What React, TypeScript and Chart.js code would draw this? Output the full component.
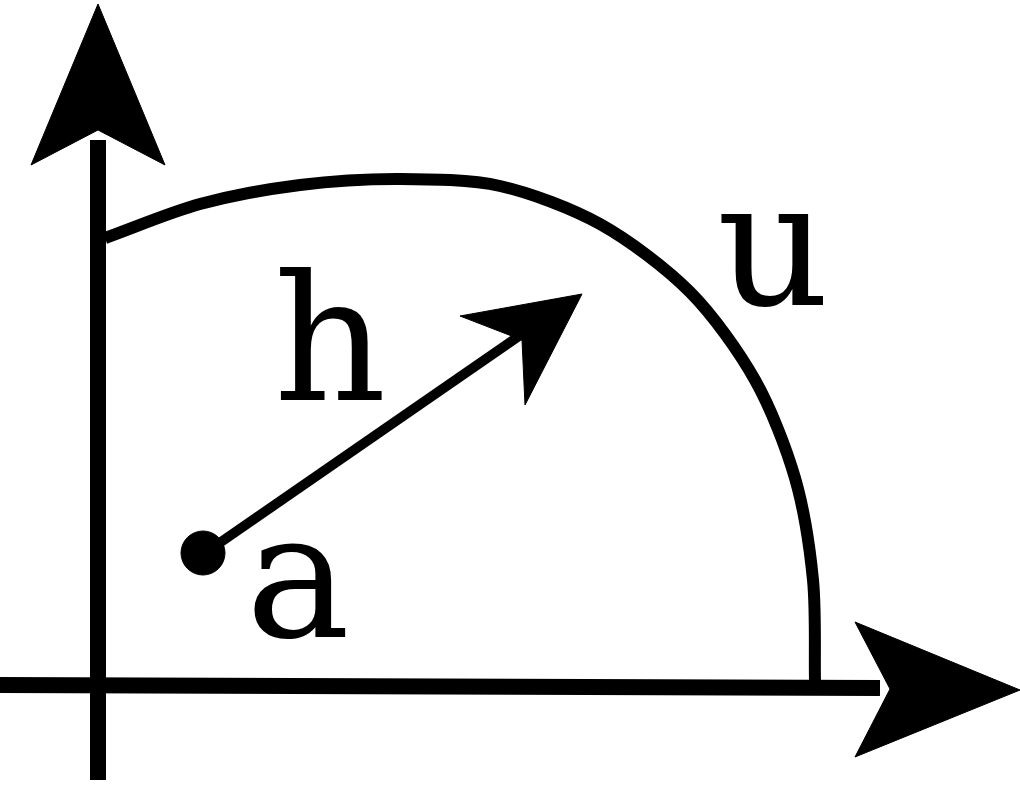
import React, { useEffect, useRef } from "react";
import { Chart, registerables } from "chart.js";
Chart.register(...registerables);

type P = { x: number; y: number };
const yAxisLine: P[] = [{ x: 98, y: 780 }, { x: 98, y: 140 }];
const yArrowHead: P[] = [{ x: 98, y: 4 }, { x: 165, y: 165 }, { x: 98, y: 130 }, { x: 31, y: 165 }, { x: 98, y: 4 }];
const xAxisLine: P[] = [{ x: 0, y: 685 }, { x: 880, y: 688 }];
const xArrowHead: P[] = [{ x: 1020, y: 690 }, { x: 855, y: 757 }, { x: 890, y: 689 }, { x: 855, y: 622 }, { x: 1020, y: 690 }];
const curve: P[] = [
  { x: 105, y: 238 }, { x: 200, y: 204 }, { x: 300, y: 185 }, { x: 400, y: 179 },
  { x: 500, y: 186 }, { x: 600, y: 224 }, { x: 690, y: 292 }, { x: 755, y: 380 },
  { x: 795, y: 478 }, { x: 813, y: 580 }, { x: 815, y: 682 },
];
const vectorLine: P[] = [{ x: 205, y: 553 }, { x: 535, y: 325 }];
const vectorHead: P[] = [{ x: 582, y: 294 }, { x: 525, y: 405 }, { x: 522, y: 340 }, { x: 460, y: 316 }, { x: 582, y: 294 }];
const origin: P[] = [{ x: 203, y: 553 }];
const labels = [
  { text: "h", x: 330, y: 400 },
  { text: "u", x: 773, y: 305 },
  { text: "a", x: 298, y: 637 },
];

export default function App() {
  const ref = useRef<HTMLCanvasElement>(null);
  useEffect(() => {
    document.body.style.margin = "0";
    const line = (data: P[], w: number) => ({
      data, borderColor: "#000", borderWidth: w, pointRadius: 0, fill: false, tension: 0, borderCapStyle: "butt" as const, clip: false,
    });
    const shape = (data: P[]) => ({
      data, borderColor: "#000", borderWidth: 1, backgroundColor: "#000", pointRadius: 0, fill: "shape" as const, tension: 0, clip: false,
    });
    const textPlugin = {
      id: "txt",
      afterDatasetsDraw(c: any) {
        const ctx = c.ctx;
        ctx.save();
        ctx.fillStyle = "#000";
        ctx.font = "175px 'DejaVu Serif'";
        ctx.textAlign = "center";
        ctx.textBaseline = "alphabetic";
        for (const l of labels) ctx.fillText(l.text, c.scales.x.getPixelForValue(l.x), c.scales.y.getPixelForValue(l.y));
        ctx.restore();
      },
    };
    const chart = new Chart(ref.current!, {
      type: "line",
      data: {
        datasets: [
          line(yAxisLine, 16), shape(yArrowHead), line(xAxisLine, 16), shape(xArrowHead),
          { ...line(curve, 12), tension: 0.3 }, line(vectorLine, 10), shape(vectorHead),
          { data: origin, pointRadius: 22, backgroundColor: "#000", borderColor: "#000", showLine: false, clip: false },
        ] as any,
      },
      options: {
        animation: false, responsive: false, maintainAspectRatio: false,
        layout: { padding: 0, autoPadding: false },
        plugins: { legend: { display: false }, tooltip: { enabled: false } },
        scales: {
          x: { type: "linear", min: 0, max: 1020, display: false },
          y: { type: "linear", min: 0, max: 788, reverse: true, display: false },
        },
      } as any,
      plugins: [textPlugin],
    });
    return () => chart.destroy();
  }, []);
  return <canvas ref={ref} width={1020} height={788} style={{ display: "block" }} />;
}
